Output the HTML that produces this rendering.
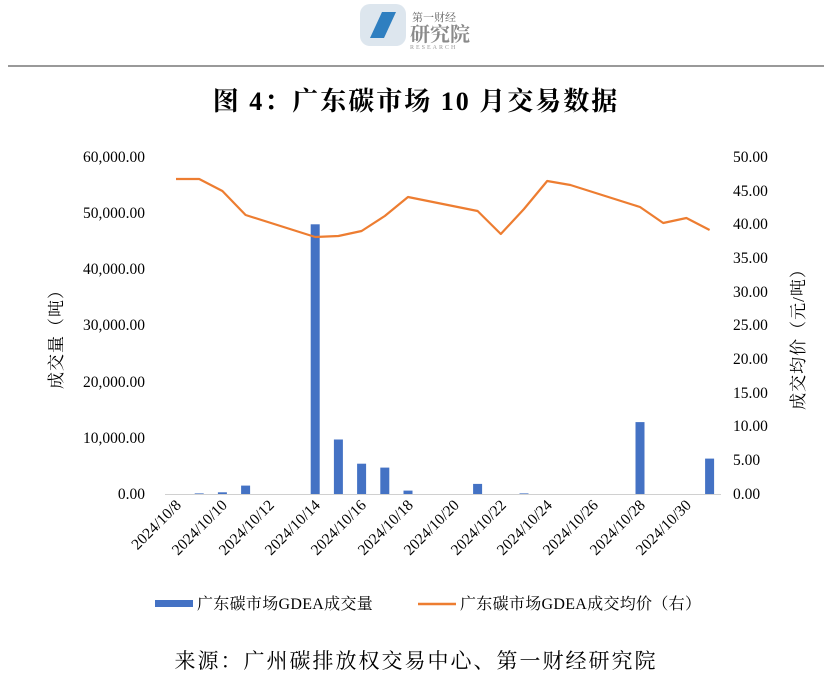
<!DOCTYPE html>
<html><head><meta charset="utf-8"><style>
body{margin:0;background:#fff;}
svg text{font-family:"Liberation Serif","Noto Serif CJK SC",serif;}
</style></head><body>
<svg width="832" height="678" xmlns="http://www.w3.org/2000/svg">
<rect width="832" height="678" fill="#fff"/>
<g transform="translate(360,4)">
<rect x="0" y="0" width="46" height="42" rx="10" fill="#dde6ee"/>
<polygon points="10,34 22,8 36,8 24,34" fill="#2f7fc0"/>
<text x="52" y="17" font-size="11" fill="#666" font-family="Liberation Sans,Noto Sans CJK SC,sans-serif">第一财经</text>
<text x="50" y="37" font-size="20" fill="#8a8a8a" font-family="Liberation Sans,Noto Sans CJK SC,sans-serif" font-weight="bold">研究院</text>
<text x="50" y="45" font-size="6" fill="#999" font-family="Liberation Sans,sans-serif" letter-spacing="2">RESEARCH</text>
</g>
<line x1="8" y1="66" x2="824" y2="66" stroke="#333" stroke-width="1"/>
<text x="416" y="110" font-size="26" font-weight="bold" text-anchor="middle" letter-spacing="2">图 4：广东碳市场 10 月交易数据</text>
<g font-size="15.5" text-anchor="end">
<text x="145" y="499">0.00</text>
<text x="145" y="443">10,000.00</text>
<text x="145" y="387">20,000.00</text>
<text x="145" y="330">30,000.00</text>
<text x="145" y="274">40,000.00</text>
<text x="145" y="218">50,000.00</text>
<text x="145" y="162">60,000.00</text>
</g>
<g font-size="15.5" text-anchor="start">
<text x="733" y="499">0.00</text>
<text x="733" y="465">5.00</text>
<text x="733" y="431">10.00</text>
<text x="733" y="398">15.00</text>
<text x="733" y="364">20.00</text>
<text x="733" y="330">25.00</text>
<text x="733" y="297">30.00</text>
<text x="733" y="263">35.00</text>
<text x="733" y="229">40.00</text>
<text x="733" y="196">45.00</text>
<text x="733" y="162">50.00</text>
</g>
<text transform="translate(62,335) rotate(-90)" font-size="17" text-anchor="middle" letter-spacing="1">成交量（吨）</text>
<text transform="translate(804,335) rotate(-90)" font-size="17" text-anchor="middle" letter-spacing="1">成交均价（元/吨）</text>
<line x1="165" y1="494.5" x2="721" y2="494.5" stroke="#d0d0d0"/>
<g fill="#4472c4">
<rect x="194.7" y="493.4" width="9" height="0.6"/>
<rect x="217.9" y="492.3" width="9" height="1.7"/>
<rect x="241.1" y="485.6" width="9" height="8.4"/>
<rect x="310.7" y="224.3" width="9" height="269.7"/>
<rect x="333.9" y="439.5" width="9" height="54.5"/>
<rect x="357.1" y="463.7" width="9" height="30.3"/>
<rect x="380.3" y="467.6" width="9" height="26.4"/>
<rect x="403.5" y="490.6" width="9" height="3.4"/>
<rect x="473.1" y="483.9" width="9" height="10.1"/>
<rect x="519.5" y="493.4" width="9" height="0.6"/>
<rect x="635.5" y="422.1" width="9" height="71.9"/>
<rect x="705.1" y="458.6" width="9" height="35.4"/>
</g>
<polyline fill="none" stroke="#ed7d31" stroke-width="2.2" stroke-linejoin="round"
points="176,179 199.2,179 222.4,191 245.6,215 315.2,237 338.4,236 361.6,231 384.8,216 408,197 477.6,211 500.8,234 524,209 547.2,181 570.4,185 640,207 663.2,223 686.4,218 709.6,230"/>
<g font-size="15.5" text-anchor="end">
<text transform="translate(182,506) rotate(-45)">2024/10/8</text>
<text transform="translate(228,506) rotate(-45)">2024/10/10</text>
<text transform="translate(275,506) rotate(-45)">2024/10/12</text>
<text transform="translate(321,506) rotate(-45)">2024/10/14</text>
<text transform="translate(367,506) rotate(-45)">2024/10/16</text>
<text transform="translate(414,506) rotate(-45)">2024/10/18</text>
<text transform="translate(460,506) rotate(-45)">2024/10/20</text>
<text transform="translate(507,506) rotate(-45)">2024/10/22</text>
<text transform="translate(553,506) rotate(-45)">2024/10/24</text>
<text transform="translate(599,506) rotate(-45)">2024/10/26</text>
<text transform="translate(646,506) rotate(-45)">2024/10/28</text>
<text transform="translate(692,506) rotate(-45)">2024/10/30</text>
</g>
<rect x="155" y="600" width="38" height="7" fill="#4472c4"/>
<text x="197" y="609" font-size="16" letter-spacing="0.3">广东碳市场GDEA成交量</text>
<line x1="418" y1="604" x2="456" y2="604" stroke="#ed7d31" stroke-width="2.5"/>
<text x="460" y="609" font-size="16" letter-spacing="0.3">广东碳市场GDEA成交均价（右）</text>
<text x="416" y="668" font-size="21" text-anchor="middle" letter-spacing="2">来源：广州碳排放权交易中心、第一财经研究院</text>
</svg>
</body></html>
